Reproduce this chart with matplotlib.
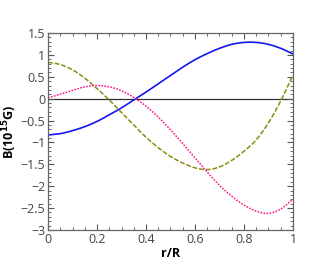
import numpy as np
import matplotlib
matplotlib.use("Agg")
import matplotlib.pyplot as plt
from matplotlib.ticker import MultipleLocator

r = [0.0, 0.05, 0.1, 0.15, 0.2, 0.25, 0.3, 0.35, 0.4, 0.45, 0.5,
     0.55, 0.6, 0.65, 0.7, 0.75, 0.8, 0.85, 0.9, 0.95, 1.0]

# blue solid
b_solid = [-0.83, -0.80, -0.73, -0.64, -0.52, -0.37, -0.21, -0.03, 0.15, 0.34, 0.53,
           0.72, 0.89, 1.03, 1.15, 1.24, 1.285, 1.285, 1.24, 1.15, 1.02]
# olive dashed
b_dashed = [0.83, 0.78, 0.66, 0.47, 0.23, -0.03, -0.32, -0.60, -0.88, -1.12, -1.32,
            -1.47, -1.58, -1.62, -1.56, -1.41, -1.20, -0.94, -0.55, -0.05, 0.54]
# magenta dotted
b_dotted = [0.02, 0.10, 0.19, 0.27, 0.30, 0.27, 0.18, 0.03, -0.17, -0.42, -0.71,
            -1.03, -1.35, -1.68, -1.98, -2.23, -2.43, -2.57, -2.62, -2.52, -2.30]


def smooth(x, y, n=300):
    # piecewise cubic through the read-off points (Catmull-Rom)
    x = np.asarray(x)
    y = np.asarray(y)
    xs, ys = [], []
    for i in range(len(x) - 1):
        p0 = y[i - 1] if i > 0 else 2 * y[0] - y[1]
        p1, p2 = y[i], y[i + 1]
        p3 = y[i + 2] if i + 2 < len(y) else 2 * y[-1] - y[-2]
        t = np.linspace(0, 1, n // len(x), endpoint=False)
        seg = 0.5 * ((2 * p1) + (-p0 + p2) * t + (2 * p0 - 5 * p1 + 4 * p2 - p3) * t ** 2
                     + (-p0 + 3 * p1 - 3 * p2 + p3) * t ** 3)
        xs.append(x[i] + (x[i + 1] - x[i]) * t)
        ys.append(seg)
    xs.append([x[-1]])
    ys.append([y[-1]])
    return np.concatenate(xs), np.concatenate(ys)


plt.rcParams["font.family"] = ["Open Sans", "DejaVu Sans"]

fig = plt.figure(figsize=(3.32, 2.72), dpi=100)
ax = fig.add_axes([0.1446, 0.1544, 0.7379, 0.7243])

ax.axhline(0, color="#333333", lw=0.9, zorder=1)
ax.plot(*smooth(r, b_solid), color="#1515f0", lw=1.2, ls="-")
ax.plot(*smooth(r, b_dashed), color="#8c8c10", lw=1.1, ls=(0, (3.2, 1.2)))
ax.plot(*smooth(r, b_dotted), color="#ff1a8c", lw=1.1, ls=(0, (1.1, 0.9)))

ax.set_xlim(0, 1)
ax.set_ylim(-3, 1.5)
ax.xaxis.set_major_locator(MultipleLocator(0.2))
ax.xaxis.set_minor_locator(MultipleLocator(0.05))
ax.yaxis.set_major_locator(MultipleLocator(0.5))
ax.yaxis.set_minor_locator(MultipleLocator(0.1))
ax.set_xticks([0, 0.2, 0.4, 0.6, 0.8, 1.0])
ax.set_xticklabels(["0", "0.2", "0.4", "0.6", "0.8", "1"])
ax.set_yticks([-3, -2.5, -2, -1.5, -1, -0.5, 0, 0.5, 1, 1.5])
ax.set_yticklabels(["\u22123", "\u22122.5", "\u22122", "\u22121.5", "\u22121",
                    "\u22120.5", "0", "0.5", "1", "1.5"])

ax.tick_params(which="both", direction="in", top=True, right=True,
               colors="#555555", labelcolor="#444444", labelsize=9, pad=2)
ax.tick_params(which="major", length=4, width=0.8)
ax.tick_params(which="minor", length=2, width=0.6)
for s in ax.spines.values():
    s.set_color("#666666")
    s.set_linewidth(0.9)

ax.set_xlabel("r/R", fontweight="bold", fontsize=9, labelpad=1)
ax.set_ylabel("B(10$^{\\mathbf{15}}$G)", fontweight="bold", fontsize=9, labelpad=1)

fig.savefig("out.png", dpi=100)
